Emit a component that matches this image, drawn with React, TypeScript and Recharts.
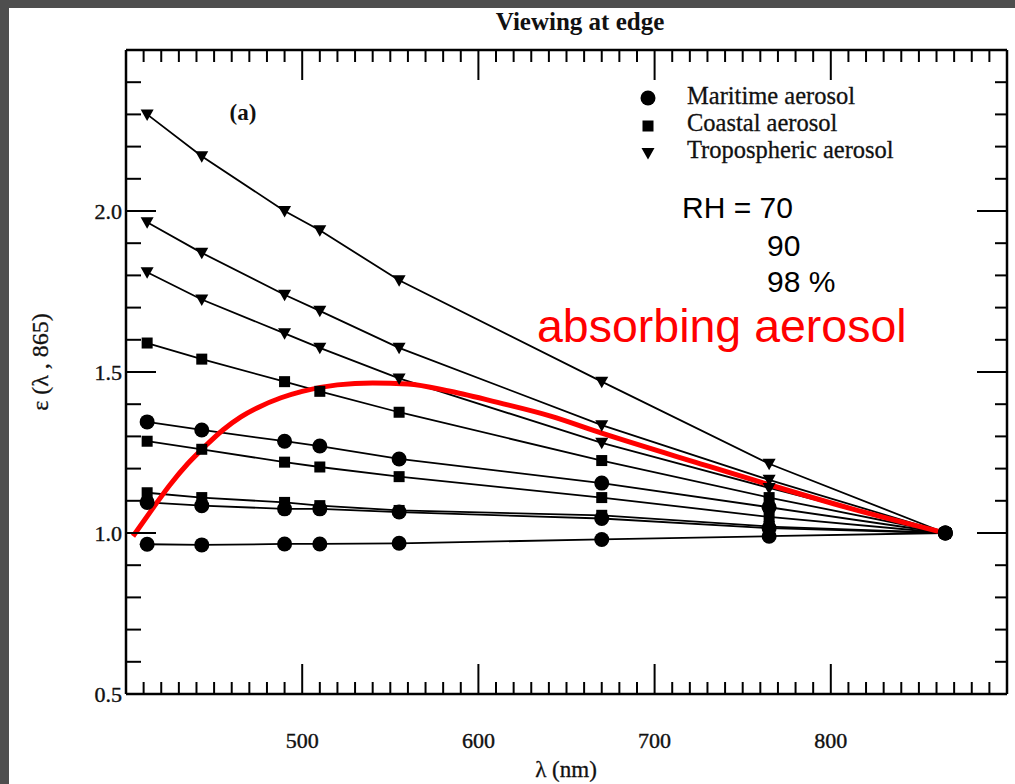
import React from "react";
import { LineChart, Line, XAxis, YAxis, ReferenceLine } from "recharts";

const W = 1015;
const H = 784;
const PLOT_TOP = 50;
const PLOT_LEFT = 126;
const PLOT_RIGHT = 1007;
const PLOT_BOTTOM = 694;

// SeaWiFS bands (nm)
const wavelengths = [412, 443, 490, 510, 555, 670, 765, 865];

// tropospheric aerosol, RH 70 / 90 / 98
const tropo70 = [2.3, 2.17, 2.0, 1.94, 1.785, 1.47, 1.215, 1.0];
const tropo90 = [1.965, 1.87, 1.74, 1.69, 1.575, 1.335, 1.165, 1.0];
const tropo98 = [1.81, 1.725, 1.62, 1.575, 1.48, 1.28, 1.14, 1.0];
// coastal aerosol
const coastal98 = [1.59, 1.54, 1.47, 1.44, 1.375, 1.225, 1.11, 1.0];
const coastal90 = [1.285, 1.26, 1.22, 1.205, 1.175, 1.11, 1.05, 1.0];
const coastal70 = [1.125, 1.11, 1.095, 1.085, 1.07, 1.055, 1.02, 1.0];
// maritime aerosol
const maritime98 = [1.345, 1.32, 1.285, 1.27, 1.23, 1.155, 1.08, 1.0];
const maritime90 = [1.095, 1.085, 1.075, 1.075, 1.065, 1.045, 1.015, 1.0];
const maritime70 = [0.965, 0.963, 0.966, 0.966, 0.968, 0.98, 0.99, 1.0];

// absorbing aerosol (red curve)
const absorbingWl = [404, 415, 425, 435, 445, 455, 465, 475, 488, 500, 520, 540, 560, 584, 612, 641, 670, 726, 765, 812, 865];
const absorbingEps = [0.99, 1.075, 1.15, 1.215, 1.27, 1.32, 1.36, 1.39, 1.42, 1.44, 1.46, 1.466, 1.463, 1.44, 1.404, 1.363, 1.31, 1.215, 1.15, 1.075, 1.0];

const xLabels = [500, 600, 700, 800];
const yLabels = [0.5, 1.0, 1.5, 2.0];
const xTicks: number[] = [];
for (let v = 410; v < 900; v += 10) xTicks.push(v);
const yTicks: number[] = [];
for (let i = 0; i <= 19; i++) yTicks.push(Math.round((0.5 + i * 0.1) * 10) / 10);

const series = [
  { key: "t70", values: tropo70, marker: "tri" },
  { key: "t90", values: tropo90, marker: "tri" },
  { key: "t98", values: tropo98, marker: "tri" },
  { key: "c98", values: coastal98, marker: "sq" },
  { key: "c90", values: coastal90, marker: "sq" },
  { key: "c70", values: coastal70, marker: "sq" },
  { key: "m98", values: maritime98, marker: "circ" },
  { key: "m90", values: maritime90, marker: "circ" },
  { key: "m70", values: maritime70, marker: "circ" },
];

const rows = wavelengths.map((wl, i) => {
  const r: any = { wl };
  series.forEach((s) => (r[s.key] = s.values[i]));
  return r;
});
const absorbingRows = absorbingWl.map((wl, i) => ({ wl, eps: absorbingEps[i] }));

const serif = "'Liberation Serif', 'Times New Roman', serif";
const sans = "'Liberation Sans', Arial, sans-serif";

function markerShape(kind: string, cx: number, cy: number, key?: any) {
  if (kind === "circ") return <circle key={key} cx={cx} cy={cy} r={7.5} fill="#000" />;
  if (kind === "sq") return <rect key={key} x={cx - 5.5} y={cy - 5.5} width={11} height={11} fill="#000" />;
  return <path key={key} d={`M${cx - 6.5},${cy - 5} L${cx + 6.5},${cy - 5} L${cx},${cy + 6.5} Z`} fill="#000" />;
}

function dotFor(kind: string) {
  return (p: any) => {
    if (p.cx == null || p.cy == null) return <g key={p.index} />;
    return markerShape(kind, p.cx, p.cy, p.index);
  };
}

function XTick(props: any) {
  const { x, y, payload } = props;
  const v = payload.value;
  const major = v % 100 === 0;
  const len = major ? 30 : 12;
  return (
    <g>
      <line x1={x} x2={x} y1={y} y2={y - len} stroke="#000" strokeWidth={2} />
      <line x1={x} x2={x} y1={PLOT_TOP} y2={PLOT_TOP + len} stroke="#000" strokeWidth={2} />
      {xLabels.includes(v) && (
        <text x={x} y={y + 54} textAnchor="middle" fontFamily={serif} fontSize={22} fill="#111" stroke="#111" strokeWidth={0.4}>
          {v}
        </text>
      )}
    </g>
  );
}

function YTick(props: any) {
  const { x, y, payload } = props;
  const v = payload.value;
  const major = Math.abs(v * 2 - Math.round(v * 2)) < 1e-6;
  const isEnd = v === 0.5;
  return (
    <g>
      {!isEnd && <line x1={x} x2={x + (major ? 30 : 15)} y1={y} y2={y} stroke="#000" strokeWidth={2} />}
      {!isEnd && <line x1={PLOT_RIGHT} x2={PLOT_RIGHT - (major ? 30 : 12)} y1={y} y2={y} stroke="#000" strokeWidth={2} />}
      {yLabels.includes(v) && (
        <text x={x - 4} y={y + 8} textAnchor="end" fontFamily={serif} fontSize={22} fill="#111" stroke="#111" strokeWidth={0.4}>
          {v.toFixed(1)}
        </text>
      )}
    </g>
  );
}

export default function App() {
  return (
    <div style={{ position: "fixed", left: 0, top: 0, width: W, height: H, background: "#4e4e4e" }}>
      <div style={{ position: "absolute", left: 9, top: 8, right: 0, bottom: 0, background: "#fff" }} />
      <div style={{ position: "absolute", left: 0, top: 0 }}>
        <LineChart
          width={W}
          height={H}
          data={rows}
          margin={{ top: PLOT_TOP, right: W - PLOT_RIGHT, bottom: 0, left: 0 }}
        >
          <XAxis
            dataKey="wl"
            type="number"
            domain={[400, 900]}
            ticks={xTicks}
            interval={0}
            height={H - PLOT_BOTTOM}
            tickSize={0}
            tickMargin={0}
            tickLine={false}
            tick={(p: any) => <XTick {...p} />}
            axisLine={{ stroke: "#000", strokeWidth: 2.5 }}
            allowDataOverflow
          />
          <YAxis
            type="number"
            domain={[0.5, 2.5]}
            ticks={yTicks}
            interval={0}
            width={PLOT_LEFT}
            tickSize={0}
            tickMargin={0}
            tickLine={false}
            tick={(p: any) => <YTick {...p} />}
            axisLine={{ stroke: "#000", strokeWidth: 2.5 }}
            allowDataOverflow
          />
          <ReferenceLine y={2.5} stroke="#000" strokeWidth={2.5} />
          <ReferenceLine x={900} stroke="#000" strokeWidth={2.5} />
          {series.map((s) => (
            <Line
              key={s.key}
              dataKey={s.key}
              type="linear"
              stroke="#000"
              strokeWidth={1.8}
              dot={dotFor(s.marker)}
              activeDot={false}
              isAnimationActive={false}
            />
          ))}
          <Line
            data={absorbingRows}
            dataKey="eps"
            type="monotone"
            stroke="#ff0000"
            strokeWidth={5}
            dot={false}
            activeDot={false}
            isAnimationActive={false}
          />
        </LineChart>
      </div>
      <svg width={W} height={H} style={{ position: "absolute", left: 0, top: 0, pointerEvents: "none" }}>
        <text x={580} y={30} textAnchor="middle" fontFamily={serif} fontSize={25} fontWeight="bold" fill="#111">
          Viewing at edge
        </text>
        <text x={243} y={120} textAnchor="middle" fontFamily={serif} fontSize={23} fontWeight="bold" fill="#111">
          (a)
        </text>
        {markerShape("circ", 648, 98)}
        {markerShape("sq", 648, 126)}
        {markerShape("tri", 648, 153)}
        <g fontFamily={serif} fontSize={24.5} fill="#111" stroke="#111" strokeWidth={0.3}>
          <text x={687} y={104}>Maritime aerosol</text>
          <text x={687} y={131}>Coastal aerosol</text>
          <text x={687} y={158}>Tropospheric aerosol</text>
        </g>
        <g fontFamily={sans} fontSize={30} fill="#000">
          <text x={682} y={218}>RH = 70</text>
          <text x={767} y={256}>90</text>
          <text x={767} y={292}>98 %</text>
        </g>
        <text x={537} y={342} fontFamily={sans} fontSize={46.5} fill="#ff0000">
          absorbing aerosol
        </text>
        <text x={566} y={777} textAnchor="middle" fontFamily={serif} fontSize={23} fill="#111" stroke="#111" strokeWidth={0.3}>
          λ (nm)
        </text>
        <text
          x={40}
          y={362}
          transform="rotate(-90 40 362)"
          textAnchor="middle"
          dominantBaseline="central"
          fontFamily={serif}
          fontSize={24}
          fill="#111"
          stroke="#111"
          strokeWidth={0.3}
        >
          ε (λ , 865)
        </text>
      </svg>
    </div>
  );
}
